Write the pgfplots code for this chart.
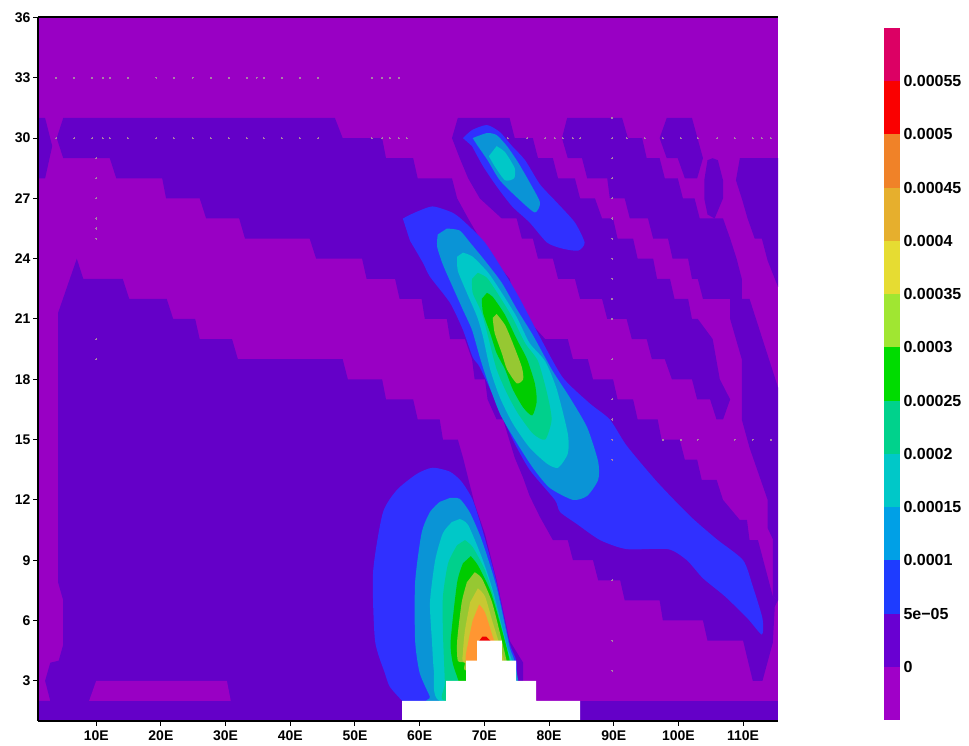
\documentclass[border=0pt]{standalone}
\usepackage{fontspec}
\setmainfont{Liberation Sans}
\usepackage{pgfplots}
\pgfplotsset{compat=1.18}
\definecolor{cm}{HTML}{9900C4}
\definecolor{ci}{HTML}{6400C8}
\definecolor{cb}{HTML}{3030FF}
\definecolor{cl}{HTML}{0A94D6}
\definecolor{cc}{HTML}{00C8C8}
\definecolor{ct}{HTML}{00D08C}
\definecolor{cg}{HTML}{00CC00}
\definecolor{cy}{HTML}{96C832}
\definecolor{cz}{HTML}{C8C832}
\definecolor{co}{HTML}{FF9632}
\definecolor{cr}{HTML}{F00000}
\definecolor{cdot}{HTML}{A880A8}
\pgfplotsset{poly/.style={fill=#1,draw=none,forget plot,mark=none},
  spoly/.style={fill=#1,draw=none,forget plot,mark=none,smooth,tension=0.4}}
\begin{document}
\begin{tikzpicture}[x=1pt,y=1pt]
\useasboundingbox (0,0) rectangle (969,746);
\begin{axis}[
  at={(38pt,25pt)},anchor=south west,scale only axis,width=740pt,height=703.5pt,
  xmin=1,xmax=115.4,ymin=1,ymax=36,clip=false,axis on top,
  axis x line=bottom,axis y line=left,axis line style={-,black,line width=2pt},
  tick align=outside,major tick length=5pt,tick style={black,line width=1pt},
  xtick={10,20,...,110},xticklabels={10E,20E,30E,40E,50E,60E,70E,80E,90E,100E,110E},
  ytick={3,6,...,36},yticklabels={3,6,9,12,15,18,21,24,27,30,33,36},
  tick label style={font=\fontsize{14}{14}\selectfont\bfseries},
  xticklabel style={yshift=-1pt},yticklabel style={xshift=1pt},
]
% background below 0
\addplot[poly=cm] coordinates {(1,1)(115.4,1)(115.4,36)(1,36)} --cycle;
% 0 to 5e-05
\addplot[poly=ci] coordinates {(3.9,30)(4.9,31)(46.9,31)(48.1,30)(54.2,30)(54.8,29)(59.0,29)(59.7,28)(65.0,28)(65.8,27)(67.5,26)(69.3,25)(71.3,24)(73.9,23)(74.7,22)(76.6,21)(79.4,20)(82.9,20)(83.7,19)(86.0,19)(86.8,18)(89.9,18)(90.6,17)(93.0,17)(93.7,16)(96.8,16)(97.4,15)(100.2,15)(101,14)(102.9,14)(103.6,13)(105.9,13)(106.9,12)(109.5,11)(110.6,11)(111,10)(112.3,10)(114.6,7.2)(115.4,7.0)(114.9,6.7)(114.6,4.9)(113,3)(111.5,3)(110,5)(104.5,5)(103.8,6)(97.6,6)(97.1,7)(91.7,7)(91,8)(87.6,8)(86.8,9)(83.7,9)(82.9,10)(80.6,10)(78.6,11.15)(77,12.2)(76,13.1)(74.7,14.1)(72.9,16)(71.9,16)(70.5,17)(70.1,18)(68.5,18)(68.1,19)(67,20)(64.7,20)(64.2,21)(60.8,21)(60.3,22)(56.9,22)(56.2,23)(51.8,23)(51.1,24)(44,24)(43,25)(33,25)(32.1,26)(27,26)(26,27)(20.8,27)(20.2,28)(13.1,28)(12.1,29)(4.9,29)} --cycle;
\addplot[poly=ci] coordinates {(65,30)(65.9,31)(73.9,31)(74.7,30)(77.5,30)(78.3,29)(80.6,29)(81.4,28)(84,28)(84.8,27)(87.1,27)(88.2,26)(89.9,26)(90.6,25)(93,25)(93.7,24)(96.1,24)(96.7,23)(98.7,23)(99.4,22)(101.5,22)(102.1,21)(103,21)(105.3,20)(106.4,18)(108,17)(106.9,16)(105.9,16)(104.9,17)(102.9,17)(102.1,18)(99,18)(97.9,19)(95.9,19)(95.1,20)(92.8,20)(92,21)(89,21)(88.2,22)(84.8,22)(84,23)(81.4,23)(80.6,24)(78.3,24)(77.5,25)(75.8,25)(75,26)(72.7,26)(69.3,27)(67.5,28)(66.2,29)} --cycle;
\addplot[poly=ci] coordinates {(82,30)(82.8,31)(91.3,31)(92.2,30)(94.4,30)(95.1,29)(97.1,29)(97.9,28)(99.9,28)(100.7,27)(102.5,27)(103.3,26)(106.9,26)(108,25)(109,24)(109.8,23)(109.8,22)(111,22)(113,20)(115.4,17.6)(115.4,7.0)(114.6,7.2)(114.6,10.05)(113.8,10.6)(113.8,12)(111,14.6)(109.8,16)(109.8,19)(108,21)(108,22)(103.8,22)(103,23)(102.1,23)(101.5,24)(99.1,24)(98.4,25)(96.1,25)(95.3,26)(92.5,26)(91.7,27)(89.4,27)(89,28)(85.9,28)(85.1,29)(82.9,29)} --cycle;
\addplot[poly=ci] coordinates {(97.1,30)(98.2,31)(102.1,31)(103.8,29)(102.9,28)(101,28)(99.9,29)(98.2,29)} --cycle;
\addplot[poly=ci] coordinates {(105.3,29)(106.1,28.9)(106.9,27.9)(106.9,27)(105.6,26)(104.5,26.2)(104,27)(104,27.9)(104.5,28.9)} --cycle;
\addplot[poly=ci] coordinates {(109.5,29)(115.4,29)(115.4,22.6)(113.8,23.9)(112.9,25)(111.8,25)(110.7,26)(109.8,27)(108.9,27.9)} --cycle;
\addplot[poly=ci] coordinates {(1,31)(2.1,31)(3.2,29.6)(2.1,28)(1,28)} --cycle;
\addplot[poly=ci] coordinates {(4.1,21.3)(7,24)(8,23)(14.1,23)(15.1,22)(20.9,22)(21.9,21)(25.3,21)(26,20)(31,20)(31.9,19)(48.1,19)(48.9,18)(54.2,18)(54.8,17)(59,17)(59.7,16)(63.1,16)(63.6,15)(65.9,15)(66.7,14.1)(68.5,11.8)(70.1,10.3)(71.9,8)(73.9,5)(76,3.9)(76,3)(74.9,3)(74.9,1)(1,1)(1,2)(2.9,2)(2.1,3)(2.9,3.9)(4.2,4)(4.9,4.8)(4.9,7)(4.1,7.9)} --cycle;
\addplot[poly=ci] coordinates {(84.8,1)(115.4,1)(115.4,2)(84.8,2)} --cycle;
\addplot[poly=cm] coordinates {(8.9,2)(10,3)(30.2,3)(30.8,2)} --cycle;
% 5e-05 to 1e-04
\addplot[spoly=cb] coordinates {(57.3,2)(55.4,2.7)(54.6,3.4)(53.1,5)(52.8,8.4)(54.3,11.35)(56.5,12.5)(59.6,13.3)(62,13.6)(64.7,13.4)(66.5,12.9)(68.2,12)(69.8,10.4)(71.9,7.9)(73.9,4.9)(75,3.9)(75,2)} --cycle;
\addplot[spoly=cb] coordinates {(66.7,30)(68.1,30.4)(70.4,30.65)(72.4,30.3)(74.3,29.6)(76.3,28.9)(78.6,27.7)(81.2,26.8)(84,25.8)(85.5,24.8)(84.5,24.4)(82.1,24.5)(79.7,24.8)(77,25.8)(74.3,26.6)(71.9,27.6)(69.8,28.6)(68.1,29.6)} --cycle;
\addplot[spoly=cb] coordinates {(57.4,26)(59.3,26.3)(62,26.6)(65,26.3)(66.7,25.9)(70.1,24.8)(73.5,23.1)(75.5,22)(78.6,20.1)(82.1,18.1)(86.3,16.8)(89.4,16)(92,14.7)(96.7,12.9)(101.8,11.2)(105.9,10.05)(110,9)(111.5,7.7)(113,6.1)(112.9,5.3)(110.7,6.1)(107.2,7.2)(103.8,8.1)(101.3,9)(98.4,9.55)(92,9.55)(87.9,10)(84.3,10.8)(81.7,11.4)(80.9,12)(77,13.5)(74.4,15)(71.9,16.8)(69.3,18.6)(68.2,19.1)(66.7,20.45)(64.7,21.8)(61.6,23.1)(60.5,23.8)(58.5,24.9)} --cycle;
% 1e-04 to 1.5e-04
\addplot[spoly=cl] coordinates {(68.2,30)(70.4,30.25)(71.9,30.15)(73.5,29.6)(75.2,28.8)(77,27.8)(78.6,26.8)(77.8,26.3)(75.2,27)(72.4,27.9)(70.5,28.9)(69,29.6)} --cycle;
\addplot[spoly=cl] coordinates {(64.2,25.5)(66.2,25.4)(67.8,24.8)(70.1,23.9)(72.7,22.8)(75,21.5)(77.5,20.2)(80.4,18.5)(83.2,17.1)(85.9,15.6)(87.6,13.9)(87.6,13)(85.9,12.2)(83.7,12)(80.1,12.6)(77.5,13.6)(74.7,15)(72.4,16.3)(70.4,18)(69.3,19.1)(68.1,20.45)(66.7,21.45)(65.1,22.6)(63.6,23.7)(62.7,24.6)(62.8,25.2)} --cycle;
\addplot[spoly=cl] coordinates {(64.7,12.1)(66.2,12.05)(67.8,11.35)(69.6,10)(71.9,7.65)(73.9,4.7)(74.7,3.9)(74.7,2)(61.6,2)(61.6,2.2)(60,3.4)(59.3,5)(59.3,7.9)(60.3,10.35)(61.6,11.4)(63.1,11.9)} --cycle;
% 1.5e-04 to 2e-04
\addplot[spoly=cc] coordinates {(71.9,29.6)(73.2,29.3)(74.7,28.5)(74.6,28)(73.2,27.9)(71.6,28.6)(70.7,29.1)} --cycle;
\addplot[spoly=cc] coordinates {(66.7,24.3)(68.2,24.1)(70.6,23.3)(72.7,22.3)(75,21.1)(77,19.8)(79.4,18.9)(81.2,17.5)(82.9,15.3)(82.9,14.3)(81.4,13.6)(79.7,13.8)(77,14.6)(74.4,15.8)(72.4,17.1)(70.9,18.5)(69.8,20.1)(68.9,21.1)(67.3,22.3)(65.9,23.4)(65.8,24.1)} --cycle;
\addplot[spoly=cc] coordinates {(66.2,11.05)(67.5,10.75)(69.6,9.15)(71.3,7.5)(73.5,4.7)(74.3,3.9)(74.3,2)(63.1,2)(62.2,3.5)(61.9,5)(61.6,6.9)(62.4,9)(63.6,10.35)(65,10.9)} --cycle;
% 2e-04 to 2.5e-04
\addplot[spoly=ct] coordinates {(69,23.3)(70.4,23.05)(71.9,22.35)(74.3,21.1)(76.3,19.8)(78.3,18.9)(79.7,17.3)(80.4,16)(79.4,15)(77.5,15.3)(75.2,16.3)(73.5,17.3)(71.9,18.5)(70.6,20.1)(69.6,21.3)(68.2,22.3)(68.1,23)} --cycle;
\addplot[spoly=ct] coordinates {(67,10)(68.2,9.65)(70.1,8.5)(71.9,6.7)(73.6,4.4)(74.1,3.9)(74.1,2)(63.9,2)(63.9,2.9)(63.6,5.4)(63.6,7.2)(64.4,8.85)(65.8,9.75)} --cycle;
% 2.5e-04 to 3e-04
\addplot[spoly=cg] coordinates {(70.4,22.3)(71.3,22.1)(73.2,21.2)(75,20)(76.6,19)(77.8,17.8)(78.1,16.9)(77.4,16.2)(76,16.6)(74.4,17.5)(73.2,18.5)(71.9,19.3)(70.9,20.3)(69.8,21.3)(69.6,22)} --cycle;
\addplot[spoly=cg] coordinates {(67.9,9.2)(69,8.75)(70.9,7.5)(72.4,5.9)(73.9,4)(73.9,2.5)(66.1,2.5)(66.1,2.9)(65.1,3.9)(64.8,5)(65.8,7.9)(66.7,8.85)} --cycle;
% 3e-04 to 3.5e-04
\addplot[spoly=cy] coordinates {(71.9,21.25)(73.2,20.7)(74.4,19.8)(75.8,18.6)(76,18)(75,17.8)(73.5,18.5)(72.7,19.3)(71.6,20.3)(71.3,21.05)} --cycle;
\addplot[spoly=cy] coordinates {(68.5,8.4)(69.6,8.1)(71.2,6.9)(72.7,5)(73.5,3.9)(73.5,3.5)(67.2,3.5)(67,3.9)(65.9,4)(65.8,5)(66.5,6.9)(67.3,7.9)} --cycle;
% higher levels
\addplot[spoly=cz] coordinates {(69,7.6)(70.1,7.2)(71.3,5.9)(72.7,4.4)(72.7,3.9)(67,3.9)(66.7,4.4)(67,5.5)(67.8,6.9)} --cycle;
\addplot[spoly=co] coordinates {(69.2,6.8)(70.1,6.4)(71.3,5.2)(72.2,4.3)(72.2,3.9)(67.3,3.9)(67.5,4.9)(68.2,6)} --cycle;
\addplot[poly=cr] coordinates {(69.7,5.2)(70.3,5.2)(71.2,4.9)(69,4.9)} --cycle;
% undefined cells
\addplot[poly=white] coordinates {(57.3,1)(57.3,2)(64.1,2)(64.1,3)(67.2,3)(67.2,4)(68.9,4)(68.9,5)(72.7,5)(72.7,4)(74.9,4)(74.9,3)(78,3)(78,2)(84.8,2)(84.8,1)} --cycle;
% faint dots
\addplot[only marks,color=cdot,mark=*,mark size=0.55pt,mark options={solid,draw=cdot,fill=cdot,line width=0pt},forget plot] coordinates {
(3.8,33)(6.6,33)(9.4,33)(11,33)(12.1,33)(14.9,33)(19.3,33)(22,33)(24.9,33)(27.7,33)(30.5,33)(33.3,33)(34.8,33)(35.9,33)(38.7,33)(41.5,33)(44.3,33)(52.6,33)(54.2,33)(55.4,33)(56.8,33)
(3.8,30)(6.6,30)(9.4,30)(11,30)(12.1,30)(14.9,30)(19.3,30)(22,30)(24.9,30)(27.7,30)(30.5,30)(33.3,30)(35.9,30)(38.7,30)(41.5,30)(44.3,30)(52.6,30)(54.2,30)(55.4,30)(56.8,30)(58,30)
(73.6,30)(76.6,30)(79.4,30)(80.9,30)(82.1,30)(83.7,30)(84.8,30)(92,30)(94.8,30)(97.6,30)(100.4,30)(103,30)(106,30)(108.7,30)(111.5,30)(112.9,30)(114.3,30)
(10,29)(10,28)(10,27)(10,26)(10,25.5)(10,25)(10,20)(10,19)
(89.8,31)(89.8,30)(89.8,29)(89.8,28)(89.8,27)(89.8,26)(89.8,25)(89.8,24)(89.8,23)(89.8,22)(89.8,21)(89.8,19)(89.8,17)(89.8,16)(89.8,15)(89.8,14)(89.8,8)(89.8,5)(89.8,3.5)
(97.6,15)(100.4,15)(103,15)(108.7,15)(111.5,15)(114.3,15)
};
\draw[black,line width=2pt] (axis cs:1,36) -- (axis cs:115.4,36);
\end{axis}
\begin{axis}[
  at={(884pt,26pt)},anchor=south west,scale only axis,width=16pt,height=692pt,
  xmin=0,xmax=1,ymin=-0.00005,ymax=0.0006,
  axis line style={draw=none},xtick=\empty,
  ytick={0,0.00005,0.0001,0.00015,0.0002,0.00025,0.0003,0.00035,0.0004,0.00045,0.0005,0.00055},
  yticklabels={0,5e{\textminus}05,0.0001,0.00015,0.0002,0.00025,0.0003,0.00035,0.0004,0.00045,0.0005,0.00055},
  yticklabel pos=right,major tick length=0pt,scaled y ticks=false,
  yticklabel style={anchor=west,xshift=0pt,font=\fontsize{16}{16}\selectfont\bfseries},
]
\addplot[fill={rgb,255:red,160;green,0;blue,200},draw=none] coordinates {(0,-0.00005)(1,-0.00005)(1,0)(0,0)} --cycle;
\addplot[fill={rgb,255:red,105;green,0;blue,210},draw=none] coordinates {(0,0)(1,0)(1,0.00005)(0,0.00005)} --cycle;
\addplot[fill={rgb,255:red,30;green,60;blue,255},draw=none] coordinates {(0,0.00005)(1,0.00005)(1,0.0001)(0,0.0001)} --cycle;
\addplot[fill={rgb,255:red,0;green,160;blue,230},draw=none] coordinates {(0,0.0001)(1,0.0001)(1,0.00015)(0,0.00015)} --cycle;
\addplot[fill={rgb,255:red,0;green,200;blue,200},draw=none] coordinates {(0,0.00015)(1,0.00015)(1,0.0002)(0,0.0002)} --cycle;
\addplot[fill={rgb,255:red,0;green,210;blue,140},draw=none] coordinates {(0,0.0002)(1,0.0002)(1,0.00025)(0,0.00025)} --cycle;
\addplot[fill={rgb,255:red,0;green,220;blue,0},draw=none] coordinates {(0,0.00025)(1,0.00025)(1,0.0003)(0,0.0003)} --cycle;
\addplot[fill={rgb,255:red,160;green,230;blue,50},draw=none] coordinates {(0,0.0003)(1,0.0003)(1,0.00035)(0,0.00035)} --cycle;
\addplot[fill={rgb,255:red,230;green,220;blue,50},draw=none] coordinates {(0,0.00035)(1,0.00035)(1,0.0004)(0,0.0004)} --cycle;
\addplot[fill={rgb,255:red,230;green,175;blue,45},draw=none] coordinates {(0,0.0004)(1,0.0004)(1,0.00045)(0,0.00045)} --cycle;
\addplot[fill={rgb,255:red,240;green,130;blue,40},draw=none] coordinates {(0,0.00045)(1,0.00045)(1,0.0005)(0,0.0005)} --cycle;
\addplot[fill={rgb,255:red,250;green,0;blue,0},draw=none] coordinates {(0,0.0005)(1,0.0005)(1,0.00055)(0,0.00055)} --cycle;
\addplot[fill={rgb,255:red,220;green,0;blue,100},draw=none] coordinates {(0,0.00055)(1,0.00055)(1,0.0006)(0,0.0006)} --cycle;
\end{axis}
\end{tikzpicture}
\end{document}
